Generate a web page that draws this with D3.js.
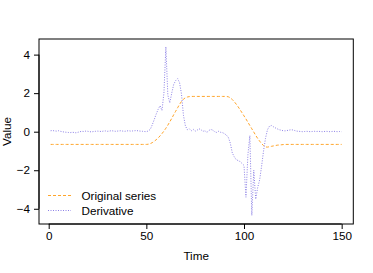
<!DOCTYPE html>
<html><head><meta charset="utf-8">
<script src="https://cdn.jsdelivr.net/npm/d3@7"></script>
<style>body{margin:0;background:#fff}svg{display:block}text{font-family:"Liberation Sans",Arial,sans-serif}</style>
</head><body>
<script>
const xTicks = [0, 50, 100, 150];
const yTicks = [-4, -2, 0, 2, 4];
const seriesNames = ["Original series", "Derivative"];
const original = [
-0.66,-0.66,-0.66,-0.66,-0.66,-0.66,-0.66,-0.66,-0.66,-0.66,
-0.66,-0.66,-0.66,-0.66,-0.66,-0.66,-0.66,-0.66,-0.66,-0.66,
-0.66,-0.66,-0.66,-0.66,-0.66,-0.66,-0.66,-0.66,-0.66,-0.66,
-0.66,-0.66,-0.66,-0.66,-0.66,-0.66,-0.66,-0.66,-0.66,-0.66,
-0.66,-0.66,-0.66,-0.66,-0.66,-0.66,-0.66,-0.66,-0.66,-0.66,
-0.65,-0.62,-0.57,-0.50,-0.42,-0.33,-0.22,-0.10,0.03,0.18,
0.34,0.51,0.69,0.88,1.06,1.24,1.42,1.57,1.69,1.76,
1.80,1.82,
1.83,1.83,1.83,1.83,1.83,1.83,1.83,1.83,1.83,1.83,
1.83,1.83,1.83,1.83,1.83,1.83,1.83,1.83,1.83,
1.81,1.76,1.67,1.56,1.43,1.29,1.14,0.98,0.82,0.66,
0.49,0.32,0.15,-0.02,-0.19,-0.35,-0.49,-0.62,-0.72,-0.79,
-0.80,-0.78,-0.76,-0.74,-0.72,-0.70,-0.69,-0.68,-0.67,
-0.66,-0.66,-0.66,-0.66,-0.66,-0.66,-0.66,-0.66,-0.66,-0.66,
-0.66,-0.66,-0.66,-0.66,-0.66,-0.66,-0.66,-0.66,-0.66,-0.66,
-0.66,-0.66,-0.66,-0.66,-0.66,-0.66,-0.66,-0.66,-0.66,-0.66
];
const derivative = [
0.05,0.06,0.04,0.03,0.05,0.02,0.0,-0.02,-0.03,-0.04,
-0.05,-0.03,-0.04,-0.06,-0.03,0.0,0.02,0.01,0.03,0.02,
0.0,-0.01,0.01,0.02,0.03,0.02,0.01,0.03,0.04,0.02,
0.03,0.05,0.04,0.02,0.03,0.04,0.05,0.03,0.02,0.04,
0.05,0.03,0.04,0.05,0.06,0.04,0.03,0.02,0.01,0.0,
0.04,
0.12,0.35,0.62,0.9,1.15,1.35,1.1,2.0,4.4,1.9,
1.5,2.0,2.45,2.65,2.75,2.55,1.95,0.85,0.3,0.1,
0.15,0.05,0.12,0.03,0.08,0.15,0.1,0.02,0.05,-0.04,
0.06,0.12,0.08,0.0,-0.04,0.02,-0.03,-0.05,-0.1,-0.18,
-0.3,-0.6,-1.1,-1.3,-1.45,-1.5,-1.55,-1.65,-1.75,-3.4,
-1.2,-0.2,-4.35,-2.0,-3.5,-2.9,-2.5,-1.8,-1.0,-0.35,
0.1,0.28,0.32,0.26,0.2,0.15,0.1,0.08,0.05,
0.04,0.06,0.08,0.1,0.09,0.06,0.03,0.02,0.01,0.0,
0.01,0.02,0.01,0.0,0.01,0.02,0.01,0.02,0.01,0.0,
0.01,0.02,0.01,0.0,0.01,0.02,0.01,0.0,0.01,0.0
];
const time = original.map((_, i) => i + 1);

const W = 373, H = 273;
const L = 39, R = 353.3, T = 39, B = 224;
const fs = "11.7px";
const origColor = "#FFA52A", derivColor = "#8C80E6";
const origDash = "3,2", derivDash = "1,1.5";
const svg = d3.select("body").append("svg").attr("width", W).attr("height", H);

const x = d3.scaleLinear().domain([-4.96, 155.96]).range([L, R]);
const y = d3.scaleLinear().domain([-4.79, 4.81]).range([B, T]);

// lines
const line = (vals) => d3.line().x((d, i) => x(time[i])).y(d => y(d))(vals);
svg.append("path").attr("d", line(original)).attr("fill", "none")
  .attr("stroke", origColor).attr("stroke-width", 1).attr("stroke-dasharray", origDash);
svg.append("path").attr("d", line(derivative)).attr("fill", "none")
  .attr("stroke", derivColor).attr("stroke-width", 1).attr("stroke-dasharray", derivDash);

// box
svg.append("rect").attr("x", L).attr("y", T).attr("width", R - L).attr("height", B - T)
  .attr("fill", "none").attr("stroke", "#000").attr("stroke-width", 1);

// x axis
const xa = svg.append("g").attr("transform", `translate(0,${B})`)
  .call(d3.axisBottom(x).tickValues(xTicks).tickSize(5).tickPadding(3).tickFormat(d3.format("d")));
xa.select(".domain").attr("d", `M${x(0)},0H${x(150)}`);
xa.selectAll("text").attr("font-size", fs).attr("font-family", "Liberation Sans").attr("fill", "#000");

// y axis
const ya = svg.append("g").attr("transform", `translate(${L},0)`)
  .call(d3.axisLeft(y).tickValues(yTicks).tickSize(5).tickPadding(4)
    .tickFormat(d => d < 0 ? "\u2212" + Math.abs(d) : String(d)));
ya.select(".domain").attr("d", `M0,${y(-4)}V${y(4)}`);
ya.selectAll("text").attr("font-size", fs).attr("font-family", "Liberation Sans").attr("fill", "#000");

// axis titles
svg.append("text").attr("x", (L + R) / 2).attr("y", 260).attr("text-anchor", "middle")
  .attr("font-size", fs).text("Time");
svg.append("text").attr("transform", `translate(11,${(T + B) / 2}) rotate(-90)`)
  .attr("text-anchor", "middle").attr("font-size", fs).text("Value");

// legend
const leg = [{name: seriesNames[0], color: origColor, dash: origDash},
             {name: seriesNames[1], color: derivColor, dash: derivDash}];
leg.forEach((d, i) => {
  const yy = 195.5 + i * 15;
  svg.append("line").attr("x1", 48).attr("x2", 71).attr("y1", yy).attr("y2", yy)
    .attr("stroke", d.color).attr("stroke-width", 1).attr("stroke-dasharray", d.dash);
  svg.append("text").attr("x", 81.5).attr("y", yy + 4.2).attr("font-size", fs).text(d.name);
});
</script>
</body></html>
